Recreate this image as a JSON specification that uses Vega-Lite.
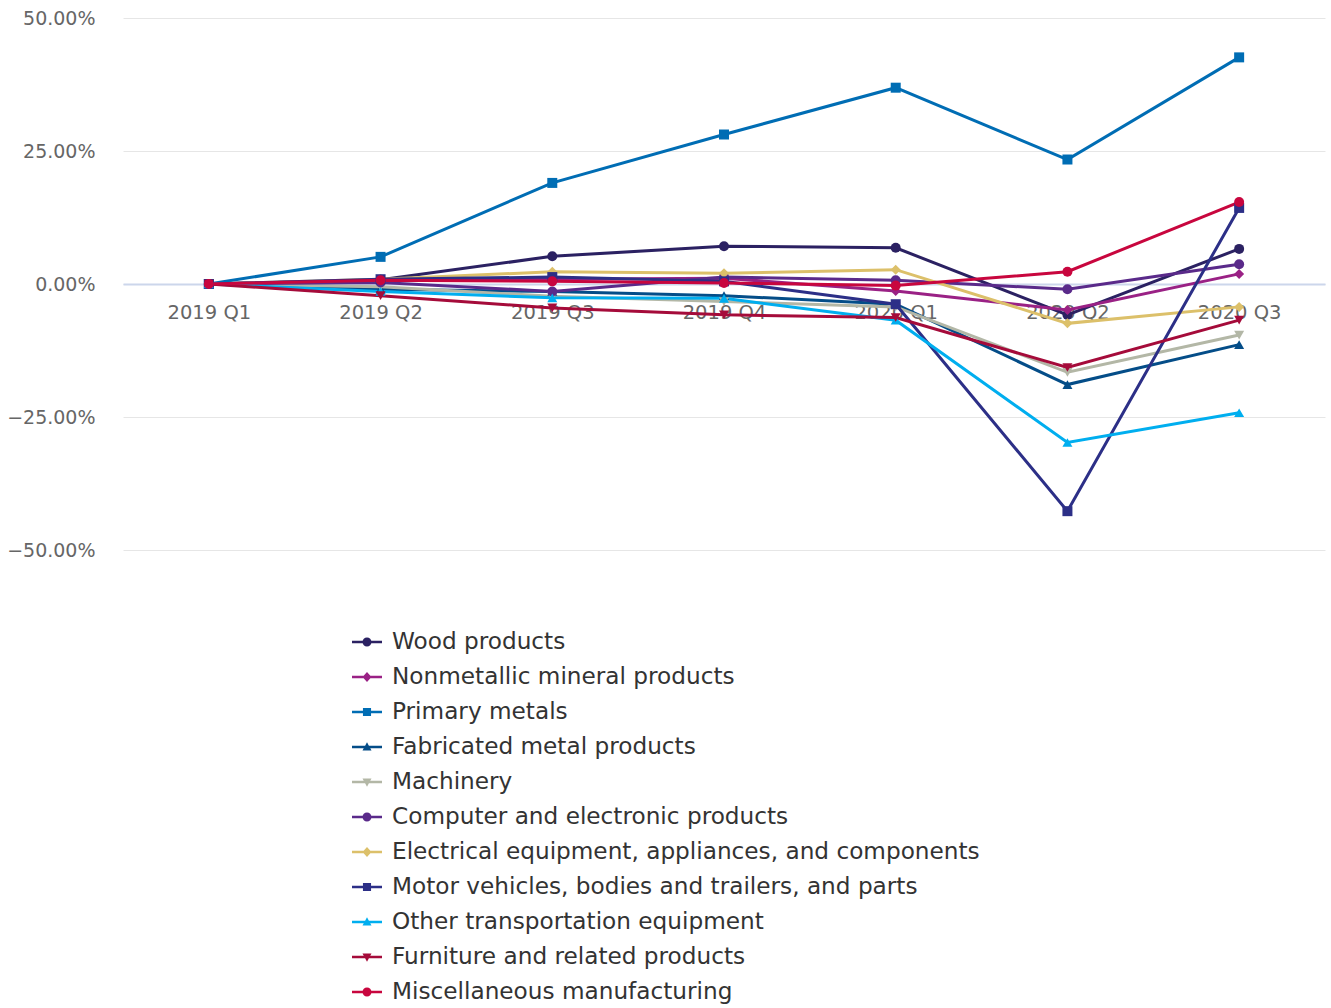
{
  "$schema": "https://vega.github.io/schema/vega-lite/v6.json",
  "width": 1202,
  "height": 532,
  "autosize": {"type": "none"},
  "padding": {"left": 123, "top": 18, "right": 6, "bottom": 458},
  "background": "#ffffff",
  "config": {
    "font": "DejaVu Sans",
    "view": {"stroke": null}
  },
  "data": {
    "values": [
      {"quarter": "2019 Q1", "series": "Wood products", "value": 0},
      {"quarter": "2019 Q2", "series": "Wood products", "value": 0.8},
      {"quarter": "2019 Q3", "series": "Wood products", "value": 5.2},
      {"quarter": "2019 Q4", "series": "Wood products", "value": 7.1},
      {"quarter": "2020 Q1", "series": "Wood products", "value": 6.8},
      {"quarter": "2020 Q2", "series": "Wood products", "value": -5.8},
      {"quarter": "2020 Q3", "series": "Wood products", "value": 6.6},

      {"quarter": "2019 Q1", "series": "Nonmetallic mineral products", "value": 0},
      {"quarter": "2019 Q2", "series": "Nonmetallic mineral products", "value": 0.7},
      {"quarter": "2019 Q3", "series": "Nonmetallic mineral products", "value": 0.9},
      {"quarter": "2019 Q4", "series": "Nonmetallic mineral products", "value": 1.1},
      {"quarter": "2020 Q1", "series": "Nonmetallic mineral products", "value": -1.3},
      {"quarter": "2020 Q2", "series": "Nonmetallic mineral products", "value": -4.9},
      {"quarter": "2020 Q3", "series": "Nonmetallic mineral products", "value": 1.9},

      {"quarter": "2019 Q1", "series": "Primary metals", "value": 0},
      {"quarter": "2019 Q2", "series": "Primary metals", "value": 5.1},
      {"quarter": "2019 Q3", "series": "Primary metals", "value": 19.0},
      {"quarter": "2019 Q4", "series": "Primary metals", "value": 28.1},
      {"quarter": "2020 Q1", "series": "Primary metals", "value": 36.9},
      {"quarter": "2020 Q2", "series": "Primary metals", "value": 23.4},
      {"quarter": "2020 Q3", "series": "Primary metals", "value": 42.6},

      {"quarter": "2019 Q1", "series": "Fabricated metal products", "value": 0},
      {"quarter": "2019 Q2", "series": "Fabricated metal products", "value": -1.0},
      {"quarter": "2019 Q3", "series": "Fabricated metal products", "value": -1.4},
      {"quarter": "2019 Q4", "series": "Fabricated metal products", "value": -2.2},
      {"quarter": "2020 Q1", "series": "Fabricated metal products", "value": -3.8},
      {"quarter": "2020 Q2", "series": "Fabricated metal products", "value": -18.9},
      {"quarter": "2020 Q3", "series": "Fabricated metal products", "value": -11.4},

      {"quarter": "2019 Q1", "series": "Machinery", "value": 0},
      {"quarter": "2019 Q2", "series": "Machinery", "value": -0.5},
      {"quarter": "2019 Q3", "series": "Machinery", "value": -2.3},
      {"quarter": "2019 Q4", "series": "Machinery", "value": -3.3},
      {"quarter": "2020 Q1", "series": "Machinery", "value": -4.3},
      {"quarter": "2020 Q2", "series": "Machinery", "value": -16.6},
      {"quarter": "2020 Q3", "series": "Machinery", "value": -9.6},

      {"quarter": "2019 Q1", "series": "Computer and electronic products", "value": 0},
      {"quarter": "2019 Q2", "series": "Computer and electronic products", "value": 0.3},
      {"quarter": "2019 Q3", "series": "Computer and electronic products", "value": -1.4},
      {"quarter": "2019 Q4", "series": "Computer and electronic products", "value": 1.3},
      {"quarter": "2020 Q1", "series": "Computer and electronic products", "value": 0.7},
      {"quarter": "2020 Q2", "series": "Computer and electronic products", "value": -1.0},
      {"quarter": "2020 Q3", "series": "Computer and electronic products", "value": 3.7},

      {"quarter": "2019 Q1", "series": "Electrical equipment, appliances, and components", "value": 0},
      {"quarter": "2019 Q2", "series": "Electrical equipment, appliances, and components", "value": 0.9},
      {"quarter": "2019 Q3", "series": "Electrical equipment, appliances, and components", "value": 2.3},
      {"quarter": "2019 Q4", "series": "Electrical equipment, appliances, and components", "value": 2.0},
      {"quarter": "2020 Q1", "series": "Electrical equipment, appliances, and components", "value": 2.7},
      {"quarter": "2020 Q2", "series": "Electrical equipment, appliances, and components", "value": -7.4},
      {"quarter": "2020 Q3", "series": "Electrical equipment, appliances, and components", "value": -4.3},

      {"quarter": "2019 Q1", "series": "Motor vehicles, bodies and trailers, and parts", "value": 0},
      {"quarter": "2019 Q2", "series": "Motor vehicles, bodies and trailers, and parts", "value": 0.9},
      {"quarter": "2019 Q3", "series": "Motor vehicles, bodies and trailers, and parts", "value": 1.3},
      {"quarter": "2019 Q4", "series": "Motor vehicles, bodies and trailers, and parts", "value": 0.5},
      {"quarter": "2020 Q1", "series": "Motor vehicles, bodies and trailers, and parts", "value": -3.8},
      {"quarter": "2020 Q2", "series": "Motor vehicles, bodies and trailers, and parts", "value": -42.7},
      {"quarter": "2020 Q3", "series": "Motor vehicles, bodies and trailers, and parts", "value": 14.3},

      {"quarter": "2019 Q1", "series": "Other transportation equipment", "value": 0},
      {"quarter": "2019 Q2", "series": "Other transportation equipment", "value": -1.4},
      {"quarter": "2019 Q3", "series": "Other transportation equipment", "value": -2.6},
      {"quarter": "2019 Q4", "series": "Other transportation equipment", "value": -2.7},
      {"quarter": "2020 Q1", "series": "Other transportation equipment", "value": -6.8},
      {"quarter": "2020 Q2", "series": "Other transportation equipment", "value": -29.8},
      {"quarter": "2020 Q3", "series": "Other transportation equipment", "value": -24.2},

      {"quarter": "2019 Q1", "series": "Furniture and related products", "value": 0},
      {"quarter": "2019 Q2", "series": "Furniture and related products", "value": -2.2},
      {"quarter": "2019 Q3", "series": "Furniture and related products", "value": -4.5},
      {"quarter": "2019 Q4", "series": "Furniture and related products", "value": -5.8},
      {"quarter": "2020 Q1", "series": "Furniture and related products", "value": -6.3},
      {"quarter": "2020 Q2", "series": "Furniture and related products", "value": -15.7},
      {"quarter": "2020 Q3", "series": "Furniture and related products", "value": -6.8},

      {"quarter": "2019 Q1", "series": "Miscellaneous manufacturing", "value": 0},
      {"quarter": "2019 Q2", "series": "Miscellaneous manufacturing", "value": 0.7},
      {"quarter": "2019 Q3", "series": "Miscellaneous manufacturing", "value": 0.5},
      {"quarter": "2019 Q4", "series": "Miscellaneous manufacturing", "value": 0.2},
      {"quarter": "2020 Q1", "series": "Miscellaneous manufacturing", "value": -0.3},
      {"quarter": "2020 Q2", "series": "Miscellaneous manufacturing", "value": 2.3},
      {"quarter": "2020 Q3", "series": "Miscellaneous manufacturing", "value": 15.4}
    ]
  },
  "encoding": {
    "x": {
      "field": "quarter",
      "type": "ordinal",
      "sort": null,
      "scale": {"type": "point", "padding": 0.5},
      "axis": {
        "title": null,
        "orient": "bottom",
        "offset": -266,
        "domainColor": "#ccd6eb",
        "domainWidth": 2,
        "ticks": false,
        "grid": false,
        "labelAngle": 0,
        "labelFontSize": 19.5,
        "labelColor": "#666666",
        "labelPadding": 19
      }
    },
    "y": {
      "field": "value",
      "type": "quantitative",
      "scale": {"domain": [-50, 50], "nice": false, "zero": false},
      "axis": {
        "title": null,
        "values": [-50, -25, 0, 25, 50],
        "labelExpr": "format(datum.value, '.2f') + '%'",
        "domain": false,
        "ticks": false,
        "gridColor": "#e6e6e6",
        "gridWidth": 1,
        "labelFontSize": 19,
        "labelColor": "#666666",
        "labelPadding": 28
      }
    },
    "color": {
      "field": "series",
      "type": "nominal",
      "sort": null,
      "scale": {
        "domain": [
          "Wood products",
          "Nonmetallic mineral products",
          "Primary metals",
          "Fabricated metal products",
          "Machinery",
          "Computer and electronic products",
          "Electrical equipment, appliances, and components",
          "Motor vehicles, bodies and trailers, and parts",
          "Other transportation equipment",
          "Furniture and related products",
          "Miscellaneous manufacturing"
        ],
        "range": ["#2b2162", "#9a2185", "#006db4", "#044d88", "#b3b7a6", "#5a2a8a", "#dcc06a", "#2c2f87", "#00aeef", "#a50b3a", "#c8063e"]
      }
    }
  },
  "resolve": {"legend": {"shape": "independent", "color": "shared"}},
  "layer": [
    {
      "mark": {"type": "line", "strokeWidth": 3},
      "encoding": {
        "color": {
          "field": "series",
          "type": "nominal",
          "sort": null,
          "legend": {
            "title": null,
            "orient": "none",
            "legendX": 229,
            "legendY": 609,
            "direction": "vertical",
            "padding": 0,
            "symbolSize": 900,
            "rowPadding": 8,
            "labelOffset": 10,
            "labelFontSize": 23.2,
            "labelColor": "#333333",
            "labelLimit": 0,
            "encode": {
              "symbols": {
                "update": {
                  "shape": {"signal": "['M-1,-0.09H1V0.09H-1Z M0.3,0A0.3,0.3 0 1,1 -0.3,0A0.3,0.3 0 1,1 0.3,0Z', 'M-1,-0.09H1V0.09H-1Z M0,-0.34L0.3,0L0,0.34L-0.3,0Z', 'M-1,-0.09H1V0.09H-1Z M-0.27,-0.27H0.27V0.27H-0.27Z', 'M-1,-0.09H1V0.09H-1Z M0,-0.32L0.3,0.24L-0.3,0.24Z', 'M-1,-0.09H1V0.09H-1Z M0,0.32L-0.3,-0.24L0.3,-0.24Z'][datum.index % 5]"},
                  "fill": {"scale": "color", "field": "value"},
                  "stroke": {"value": "transparent"},
                  "strokeWidth": {"value": 0},
                  "size": {"value": 900},
                  "opacity": {"value": 1}
                }
              }
            }
          }
        }
      }
    },
    {
      "mark": {"type": "point", "filled": true, "opacity": 1, "size": 100},
      "encoding": {
        "shape": {
          "field": "series",
          "type": "nominal",
          "sort": null,
          "legend": null,
          "scale": {
            "domain": [
              "Wood products",
              "Nonmetallic mineral products",
              "Primary metals",
              "Fabricated metal products",
              "Machinery",
              "Computer and electronic products",
              "Electrical equipment, appliances, and components",
              "Motor vehicles, bodies and trailers, and parts",
              "Other transportation equipment",
              "Furniture and related products",
              "Miscellaneous manufacturing"
            ],
            "range": ["circle", "diamond", "square", "triangle-up", "triangle-down", "circle", "diamond", "square", "triangle-up", "triangle-down", "circle"]
          }
        },
        "color": {"field": "series", "type": "nominal", "sort": null, "legend": null}
      }
    }
  ]
}
